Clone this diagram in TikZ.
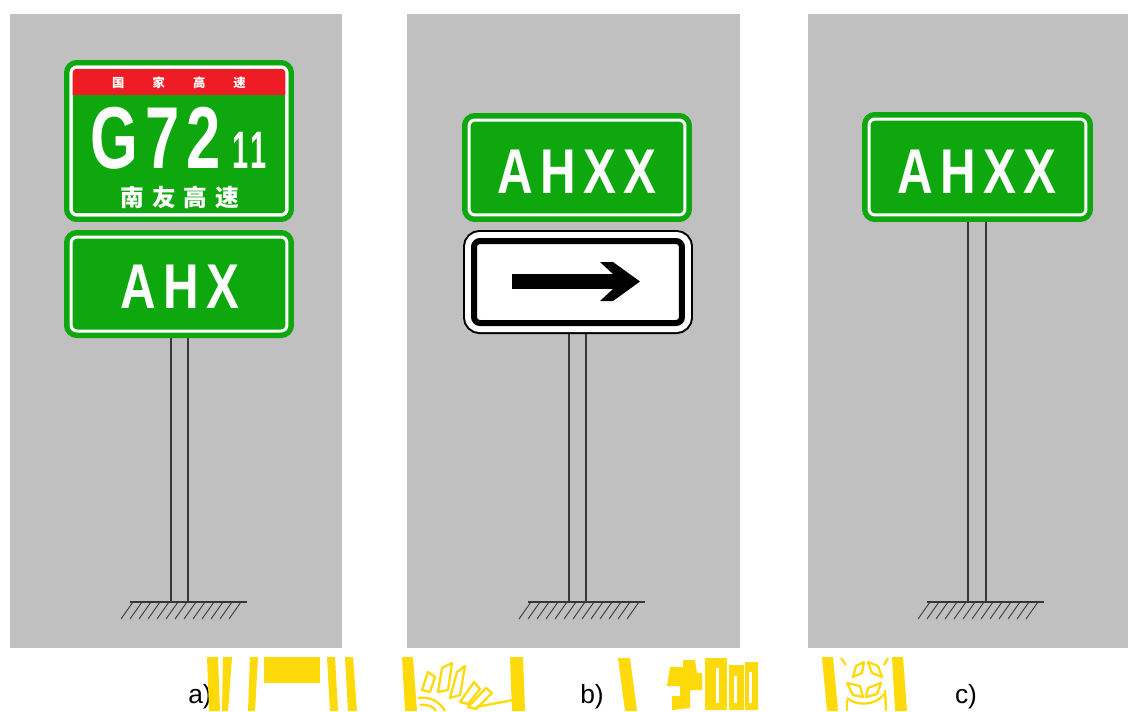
\documentclass[tikz,border=0pt]{standalone}
\usepackage{fontspec}
\setmainfont{Liberation Sans}
\newfontfamily\cjk{Noto Sans CJK SC}
\definecolor{bg}{RGB}{192,192,192}
\definecolor{sgreen}{RGB}{14,168,14}
\definecolor{sred}{RGB}{238,28,36}
\definecolor{yel}{RGB}{255,218,10}
\definecolor{polec}{RGB}{55,55,55}
\tikzset{
  panel/.style={fill=bg, draw=none},
  greensign/.style={rectangle, inner sep=0pt, outer sep=0pt, fill=sgreen, draw=white,
     line width=0.06cm, rounded corners=0.12cm,
     preaction={draw=sgreen, line width=0.28cm}},
  whitesign/.style={rectangle, inner sep=0pt, outer sep=0pt, fill=white, draw=black,
     line width=0.12cm, rounded corners=0.12cm,
     preaction={draw=black, line width=0.44cm},
     preaction={draw=white, line width=0.36cm}},
  signtext/.style={text=white, inner sep=0pt, anchor=base},
  poleline/.style={draw=polec, line width=0.6pt},
  groundline/.style={draw=polec, line width=0.8pt},
  hatchline/.style={draw=polec, line width=0.5pt},
  caption/.style={font=\fontsize{15}{15}\selectfont, text=black, inner sep=0pt},
  yfill/.style={fill=yel, draw=none},
  yline/.style={draw=yel, line width=1.3pt, line join=round, fill=none}
}
\newcommand{\bigsign}[1]{\scalebox{0.78}[1]{\fontsize{36}{36}\selectfont\bfseries #1}}
\begin{document}
\begin{tikzpicture}[x=0.02cm,y=-0.02cm]
\useasboundingbox (0,0) rectangle (1128,711);
\fill[white] (0,0) rectangle (1128,711);
% panels
\fill[panel] (10,14) rectangle (342,648);
\fill[panel] (407,14) rectangle (740,648);
\fill[panel] (808,14) rectangle (1128,648);

% ---------- panel a ----------
\draw[poleline] (171,338) -- (171,602);
\draw[poleline] (188,338) -- (188,602);
\node[greensign, minimum width=4.32cm, minimum height=2.96cm] (sa1) at (179,141) {};
\fill[sred] (72,69) rectangle (286,95);
\draw[white, line width=0.06cm, rounded corners=0.12cm] (sa1.north west) rectangle (sa1.south east);
\node[text=white, inner sep=0pt] (gj) at (179,83) {\cjk\bfseries\fontsize{7}{7}\selectfont 国\hspace{16pt}家\hspace{16pt}高\hspace{16pt}速};
\node[signtext] (g72) at (155.5,168) {\scalebox{0.7}[1]{\fontsize{50}{50}\selectfont\bfseries G\hspace{6pt}7\hspace{6pt}2}};
\node[signtext] (n11) at (250,168) {\scalebox{0.55}[1]{\fontsize{30}{30}\selectfont\bfseries 1\hspace{2pt}1}};
\node[text=white, inner sep=0pt] (ny) at (180,197) {\cjk\bfseries\fontsize{13.5}{13.5}\selectfont 南\hspace{4.5pt}友\hspace{4.5pt}高\hspace{4.5pt}速};
\node[greensign, minimum width=4.32cm, minimum height=1.88cm] (sa2) at (179,284) {};
\node[signtext] (ahx) at (180,308) {\bigsign{A\hspace{5.5pt}H\hspace{5.5pt}X}};
\draw[groundline] (130,602) -- (247,602);
\foreach \x in {133,142,...,246} \draw[hatchline] (\x,602) -- (\x-12,619);

% ---------- panel b ----------
\draw[poleline] (569,334) -- (569,602);
\draw[poleline] (586,334) -- (586,602);
\node[greensign, minimum width=4.32cm, minimum height=1.90cm] (sb1) at (577,167.5) {};
\node[signtext] (ahxxb) at (577,193) {\bigsign{A\hspace{5.5pt}H\hspace{5.5pt}X\hspace{5.5pt}X}};
\node[whitesign, minimum width=4.16cm, minimum height=1.64cm] (sb2) at (578,282) {};
\fill[black] (512,274) rectangle (622,289);
\fill[black] (600,262) -- (613,262) -- (640,281.5) -- (613,301) -- (600,301) -- (621,281.5) -- cycle;
\draw[groundline] (528,602) -- (645,602);
\foreach \x in {531,540,...,644} \draw[hatchline] (\x,602) -- (\x-12,619);

% ---------- panel c ----------
\draw[poleline] (968,222) -- (968,602);
\draw[poleline] (986,222) -- (986,602);
\node[greensign, minimum width=4.34cm, minimum height=1.92cm] (sc1) at (977.5,167) {};
\node[signtext] (ahxxc) at (977,193) {\bigsign{A\hspace{5.5pt}H\hspace{5.5pt}X\hspace{5.5pt}X}};
\draw[groundline] (927,602) -- (1044,602);
\foreach \x in {930,939,...,1043} \draw[hatchline] (\x,602) -- (\x-12,619);

% ---------- captions ----------
\node[caption] (ca) at (200,697) {a)};
\node[caption] (cb) at (592,697) {b)};
\node[caption] (cc) at (966,697) {c)};

% ---------- yellow marks ----------
\fill[yfill] (207,657) -- (218,657) -- (220,711) -- (209,711) -- cycle;
\fill[yfill] (223,657) -- (232,657) -- (228,711) -- (222,711) -- cycle;
\fill[yfill] (250,657) -- (258,657) -- (255,711) -- (248,711) -- cycle;
\fill[yfill] (264,657) rectangle (320,683);
\fill[yfill] (327,657) -- (335,657) -- (338,711) -- (330,711) -- cycle;
\fill[yfill] (345,657) -- (353,657) -- (357,711) -- (348,711) -- cycle;

\fill[yfill] (402,657) -- (413,657) -- (417,711) -- (405,711) -- cycle;
\fill[yfill] (510,657) -- (523,657) -- (525,711) -- (512,711) -- cycle;
\draw[yline] (422,690) -- (428,672) -- (435,677) -- (430,692) -- cycle;
\draw[yline] (438,692) -- (442,668) -- (452,663) -- (448,690) -- cycle;
\draw[yline] (450,698) -- (457,672) -- (465,666) -- (460,695) -- cycle;
\draw[yline] (460,702) -- (474,682) -- (480,689) -- (468,704) -- cycle;
\draw[yline] (468,707) -- (486,688) -- (492,693) -- (476,709) -- cycle;
\draw[yline] (476,707) -- (513,700);
\draw[yline] (418,698) .. controls (430,696) and (440,702) .. (445,711);
\draw[yline] (420,705) .. controls (428,704) and (434,707) .. (436,711);

\fill[yfill] (618,658) -- (630,658) -- (637,711) -- (625,711) -- cycle;
\fill[yfill] (670,667) -- (683,667) -- (683,660) -- (695,660) -- (697,673) -- (702,673) -- (702,690) -- (690,690) -- (690,708) -- (672,710) -- (672,696) -- (680,696) -- (680,686) -- (667,686) -- cycle;
\fill[yfill] (705,658) rectangle (727,710);
\fill[yfill] (729,665) rectangle (744,710);
\fill[yfill] (745,662) rectangle (758,710);
\fill[white] (716,668) rectangle (719,703);
\fill[white] (734,676) rectangle (737,703);
\fill[white] (749,672) rectangle (752,703);

\fill[yfill] (822,657) -- (833,657) -- (838,711) -- (827,711) -- cycle;
\fill[yfill] (892,657) -- (903,657) -- (907,711) -- (895,711) -- cycle;
\draw[yline] (853,677) -- (856,666) -- (864,662) -- (862,673) -- cycle;
\draw[yline] (868,662) -- (878,666) -- (882,677) -- (872,673) -- cycle;
\draw[yline] (847,683) -- (860,686) -- (863,697) -- (853,695) -- cycle;
\draw[yline] (866,697) -- (868,688) -- (881,683) -- (877,694) -- cycle;
\draw[yline] (847,698) .. controls (856,706) and (876,706) .. (884,694);
\draw[yline] (847,700) -- (847,711);
\draw[yline] (885,690) -- (886,711);
\draw[yline] (841,658) -- (846,665);
\draw[yline] (888,658) -- (884,665);
\end{tikzpicture}
\end{document}
